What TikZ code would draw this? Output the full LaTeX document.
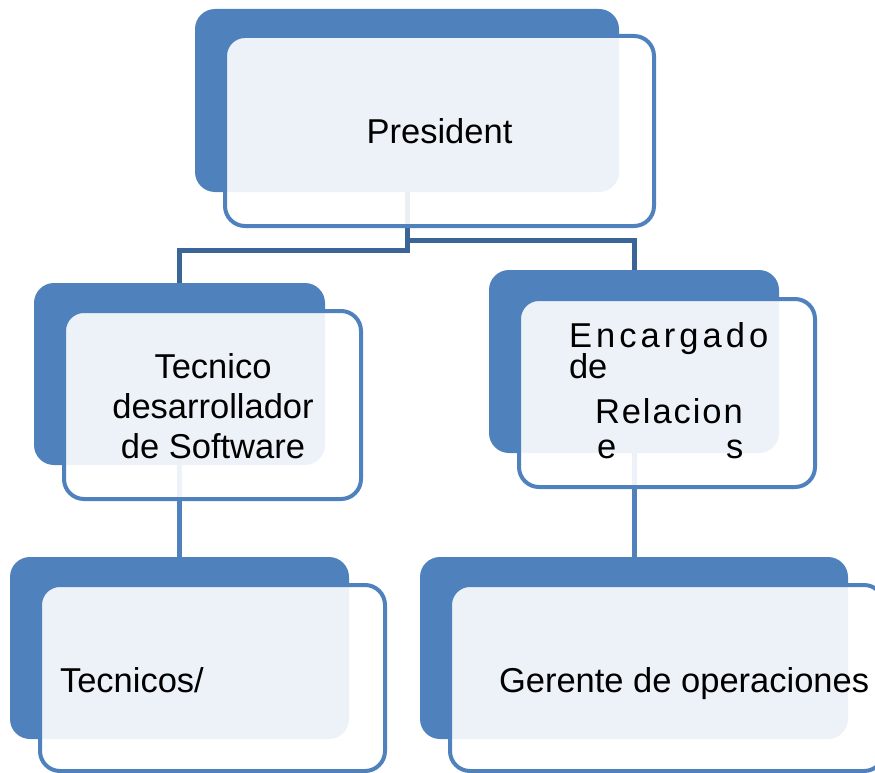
\documentclass[tikz,border=0pt]{standalone}
\usepackage{fontspec}
\setmainfont{Liberation Sans}
\definecolor{boxblue}{HTML}{4F81BD}
\definecolor{linkdark}{HTML}{3C6597}
\tikzset{
  backbox/.style={rectangle, rounded corners=20pt, fill=boxblue, draw=none, inner sep=0pt, outer sep=0pt},
  frontbox/.style={rectangle, rounded corners=20pt, fill=white, fill opacity=0.9, text opacity=1, draw=boxblue, line width=4pt, inner sep=0pt, outer sep=0pt, font=\fontsize{34.5}{40}\selectfont, align=center},
  lbl/.style={inner sep=0pt, outer sep=0pt, font=\fontsize{34.5}{40}\selectfont},
  topconn/.style={draw=linkdark, line width=5pt},
  lowconn/.style={draw=boxblue, line width=5pt}
}
\begin{document}
\begin{tikzpicture}[x=1pt, y=-1pt]
\useasboundingbox (0,0) rectangle (875,773);
\clip (0,0) rectangle (875,773);
% back boxes
\node[backbox, minimum width=424pt, minimum height=183pt] (P0) at (407,100.5) {};
\node[backbox, minimum width=291pt, minimum height=182pt] (T0) at (179.5,374) {};
\node[backbox, minimum width=290pt, minimum height=183pt] (E0) at (634,361.5) {};
\node[backbox, minimum width=339pt, minimum height=182pt] (B0) at (179.5,648) {};
\node[backbox, minimum width=428pt, minimum height=182pt] (G0) at (634,648) {};
% connectors
\draw[topconn] (P0.south) -- ++(0,58) -| (T0.north);
\draw[topconn] ([yshift=-48pt]P0.south) -| (E0.north);
\draw[lowconn] (T0.south) -- (B0.north);
\draw[lowconn] (E0.south) -- (G0.north);
% front boxes
\node[frontbox, minimum width=429pt, minimum height=190pt] (P) at (439.5,131) {President};
\node[frontbox, minimum width=297pt, minimum height=188pt] (T) at (212.5,405) {};
\node[frontbox, minimum width=296pt, minimum height=188pt] (E) at (667,393) {};
\node[frontbox, minimum width=345pt, minimum height=186pt] (B) at (212.5,678) {};
\node[frontbox, minimum width=434pt, minimum height=186pt] (G) at (667,678) {};
% texts
\node[lbl, align=center, anchor=base] (t1) at (213,378) {Tecnico};
\node[lbl, align=center, anchor=base] (t2) at (213,418) {desarrollador};
\node[lbl, align=center, anchor=base] (t3) at (213,458) {de Software};
\node[lbl, anchor=base west] (e1) at (569,347) {\addfontfeature{LetterSpace=11.8}Encargado};
\node[lbl, anchor=base west] (e2) at (569,378) {de};
\node[lbl, anchor=base west] (e3) at (595,423) {\addfontfeature{LetterSpace=5.6}Relacion};
\node[lbl, anchor=base west] (e4) at (597,458) {e\hspace{110pt}s};
\node[lbl, anchor=base west] (b1) at (60,692) {Tecnicos/};
\node[lbl, anchor=base west] (g1) at (499,692) {Gerente de operaciones};
\end{tikzpicture}
\end{document}
